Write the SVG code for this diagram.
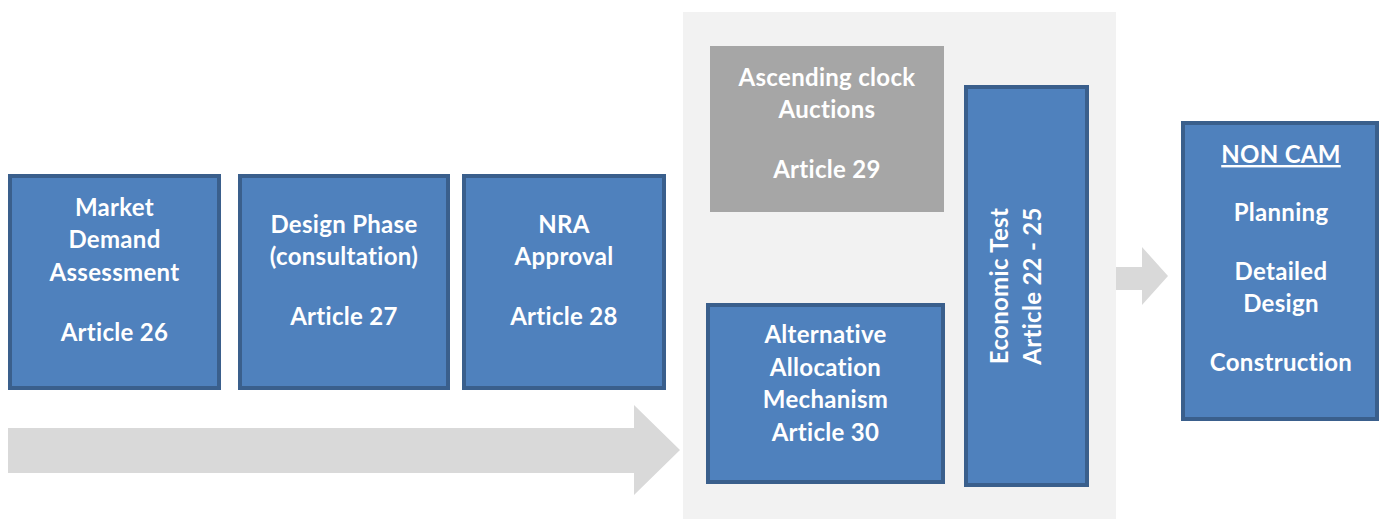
<svg xmlns="http://www.w3.org/2000/svg" width="1379" height="519" viewBox="0 0 1379 519">
<style>
.box{fill:#4f81bd;stroke:#3a5f8c;stroke-width:4}
.t{font-family:Lato,"Liberation Sans",sans-serif;font-weight:bold;font-size:24px;letter-spacing:0.3px;fill:#ffffff;text-anchor:middle}
.arr{fill:#d9d9d9}
</style>
<rect x="0" y="0" width="1379" height="519" fill="#ffffff"/>
<rect id="panel" x="683" y="12" width="433" height="507" fill="#f2f2f2"/>
<g id="connectors">
<polygon class="arr" points="8,428 634,428 634,405 680,450 634,495 634,473 8,473"/>
<polygon class="arr" points="1116,267 1142,267 1142,247 1168,276 1142,305 1142,290 1116,290"/>
</g>
<g id="n1">
<rect class="box" x="10" y="176" width="209" height="212"/>
<text class="t" x="114.5" y="216">Market</text>
<text class="t" x="114.5" y="248">Demand</text>
<text class="t" x="114.5" y="281">Assessment</text>
<text class="t" x="114.5" y="341">Article 26</text>
</g>
<g id="n2">
<rect class="box" x="240" y="176" width="208" height="212"/>
<text class="t" x="344" y="233">Design Phase</text>
<text class="t" x="344" y="265">(consultation)</text>
<text class="t" x="344" y="325">Article 27</text>
</g>
<g id="n3">
<rect class="box" x="464" y="176" width="200" height="212"/>
<text class="t" x="564" y="233">NRA</text>
<text class="t" x="564" y="265">Approval</text>
<text class="t" x="564" y="325">Article 28</text>
</g>
<g id="n4">
<rect x="710" y="46" width="234" height="166" fill="#a6a6a6"/>
<text class="t" x="827" y="86">Ascending clock</text>
<text class="t" x="827" y="118">Auctions</text>
<text class="t" x="827" y="178">Article 29</text>
</g>
<g id="n5">
<rect class="box" x="708" y="305" width="235" height="177"/>
<text class="t" x="825.5" y="343">Alternative</text>
<text class="t" x="825.5" y="376">Allocation</text>
<text class="t" x="825.5" y="408">Mechanism</text>
<text class="t" x="825.5" y="441">Article 30</text>
</g>
<g id="n6">
<rect class="box" x="966" y="87" width="121" height="398"/>
<text class="t" transform="translate(1008,286) rotate(-90)" x="0" y="0">Economic Test</text>
<text class="t" transform="translate(1041,286) rotate(-90)" x="0" y="0">Article 22 - 25</text>
</g>
<g id="n7">
<rect class="box" x="1183" y="123" width="194" height="296"/>
<text class="t" x="1281" y="163" text-decoration="underline">NON CAM</text>
<text class="t" x="1281" y="221">Planning</text>
<text class="t" x="1281" y="280">Detailed</text>
<text class="t" x="1281" y="312">Design</text>
<text class="t" x="1281" y="371">Construction</text>
</g>
</svg>
